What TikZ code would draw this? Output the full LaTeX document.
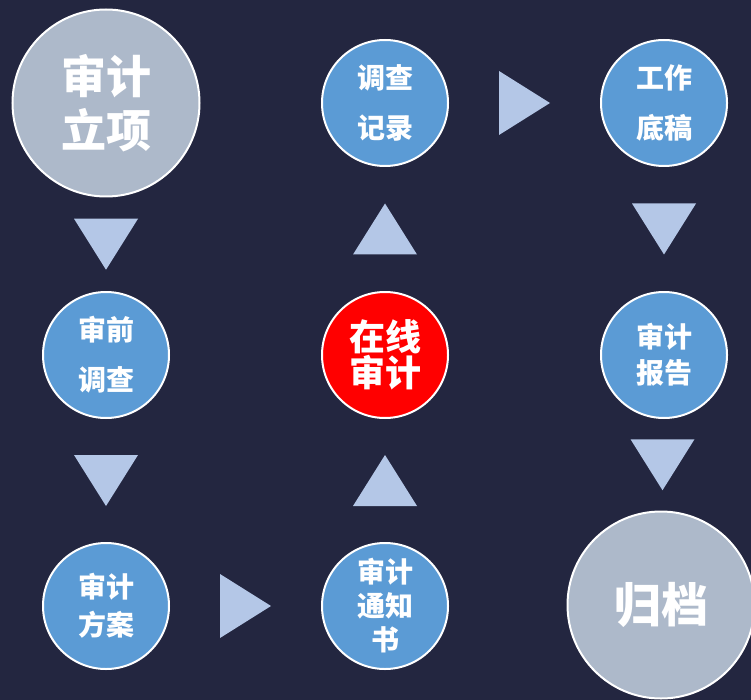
\documentclass[tikz,border=0pt]{standalone}
\usepackage{fontspec}
\newfontfamily\cjk{Noto Sans CJK SC}
\usetikzlibrary{calc}
\definecolor{bgnavy}{HTML}{232640}
\definecolor{stepblue}{HTML}{5B9BD5}
\definecolor{stepgrey}{HTML}{ADB9CA}
\definecolor{arrowblue}{HTML}{B4C7E7}
\tikzset{
  stepnode/.style={draw=white, line width=2pt, circle, fill=stepblue, text=white,
    minimum size=126pt, inner sep=0pt, align=center},
  bignode/.style={stepnode, fill=stepgrey, minimum size=187pt},
  tri/.style={fill=arrowblue}
}
\begin{document}
\begin{tikzpicture}[x=1pt, y=1pt, node distance=279pt]
\useasboundingbox (0,0) rectangle (751,-700);
\fill[bgnavy] (0,0) rectangle (751,-700);
\node (lixiang)[bignode, font=\cjk\bfseries\fontsize{45}{54}\selectfont] at (106,-103) {审计\\立项};
\node (shenqian)[stepnode, font=\cjk\bfseries\fontsize{28}{50}\selectfont] at (106,-355) {审前\\调查};
\node (fangan)[stepnode, font=\cjk\bfseries\fontsize{28}{38}\selectfont] [below of=shenqian, node distance=251pt] {审计\\方案};
\node (tongzhi)[stepnode, font=\cjk\bfseries\fontsize{28}{34}\selectfont] [right of=fangan] {审计\\通知\\书};
\node (zaixian)[stepnode, fill=red, font=\cjk\bfseries\fontsize{36}{32}\selectfont] [above of=tongzhi, node distance=251pt] {在线\\审计};
\node (jilu)[stepnode, font=\cjk\bfseries\fontsize{28}{50}\selectfont] [above of=zaixian, node distance=252pt] {调查\\记录};
\node (digao)[stepnode, font=\cjk\bfseries\fontsize{28}{50}\selectfont] [right of=jilu] {工作\\底稿};
\node (baogao)[stepnode, font=\cjk\bfseries\fontsize{28}{36}\selectfont] [below of=digao, node distance=252pt] {审计\\报告};
\node (guidang)[bignode, font=\cjk\bfseries\fontsize{47}{54}\selectfont] at (661,-605) {归档};
% arrows between steps
\fill[tri, shift={($(lixiang.south)!0.5!(shenqian.north)$)}, rotate=-90] (-25.5,32) -- (25.5,0) -- (-25.5,-32) -- cycle;
\fill[tri, shift={($(shenqian.south)!0.5!(fangan.north)$)}, rotate=-90] (-25.5,32) -- (25.5,0) -- (-25.5,-32) -- cycle;
\fill[tri, shift={($(fangan.east)!0.5!(tongzhi.west)$)}] (-25.5,32) -- (25.5,0) -- (-25.5,-32) -- cycle;
\fill[tri, shift={($(tongzhi.north)!0.5!(zaixian.south)$)}, rotate=90] (-25.5,32) -- (25.5,0) -- (-25.5,-32) -- cycle;
\fill[tri, shift={($(zaixian.north)!0.5!(jilu.south)$)}, rotate=90] (-25.5,32) -- (25.5,0) -- (-25.5,-32) -- cycle;
\fill[tri, shift={($(jilu.east)!0.5!(digao.west)$)}] (-25.5,32) -- (25.5,0) -- (-25.5,-32) -- cycle;
\fill[tri, shift={($(digao.south)!0.5!(baogao.north)$)}, rotate=-90] (-25.5,32) -- (25.5,0) -- (-25.5,-32) -- cycle;
\fill[tri, shift={($(baogao.south)!0.5!(guidang.north)$)}, rotate=-90] (-25.5,32) -- (25.5,0) -- (-25.5,-32) -- cycle;
\end{tikzpicture}
\end{document}
